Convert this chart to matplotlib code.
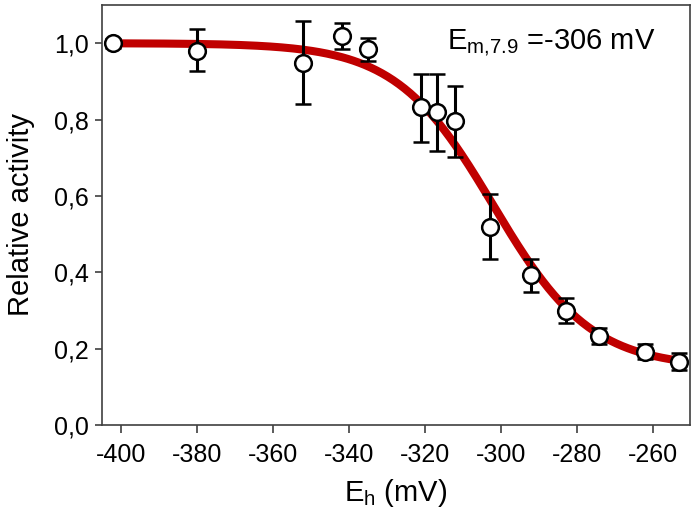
import numpy as np
import matplotlib
matplotlib.use('Agg')
import matplotlib.pyplot as plt

plt.rcParams['font.family'] = ['Liberation Sans', 'DejaVu Sans']
plt.rcParams['mathtext.fontset'] = 'custom'
plt.rcParams['mathtext.rm'] = 'Liberation Sans'
plt.rcParams['axes.unicode_minus'] = False

# data
eh = [-402, -380, -352, -341.7, -334.9, -321, -316.9, -312, -303, -292, -283, -274.2, -262, -253.2]
activity = [1.0, 0.98, 0.948, 1.019, 0.984, 0.832, 0.819, 0.796, 0.519, 0.393, 0.299, 0.233, 0.192, 0.166]
err_up = [0.012, 0.056, 0.110, 0.033, 0.030, 0.087, 0.100, 0.091, 0.086, 0.043, 0.033, 0.02, 0.02, 0.022]
err_down = [0.012, 0.053, 0.108, 0.035, 0.030, 0.092, 0.101, 0.094, 0.083, 0.044, 0.033, 0.02, 0.02, 0.022]

# Nernst fit (n = 2) as drawn
fit_top = 1.0
fit_bottom = 0.15
fit_mid = -302.0
fit_slope = 12.85  # RT/2F in mV
em_text = -306

xticks = [-400, -380, -360, -340, -320, -300, -280, -260]
yticks = [0.0, 0.2, 0.4, 0.6, 0.8, 1.0]

fig = plt.figure(figsize=(7, 5.16), dpi=100)
ax = fig.add_axes([0.1453, 0.1764, 0.8404, 0.8139])

xfit = np.linspace(eh[0], eh[-1], 300)
yfit = fit_bottom + (fit_top - fit_bottom) / (1 + np.exp((xfit - fit_mid) / fit_slope))
ax.plot(xfit, yfit, color='#c00000', lw=5.8, zorder=1, solid_capstyle='butt')

ax.errorbar(eh, activity, yerr=[err_down, err_up], fmt='o', color='black',
            ecolor='black', elinewidth=2.2, capsize=6, capthick=2.2,
            markersize=12, markerfacecolor='white', markeredgecolor='black',
            markeredgewidth=1.8, zorder=3)

ax.set_xlim(-405, -250.3)
ax.set_ylim(0, 1.1)
ax.set_xticks(xticks)
ax.set_yticks(yticks)
ax.set_yticklabels([('%.1f' % v).replace('.', ',') for v in yticks])
ax.tick_params(direction='out', length=5, width=1.2, labelsize=18, color='#404040', pad=4)
ax.tick_params(axis='x', length=6, pad=7)
for s in ax.spines.values():
    s.set_color('#404040')
    s.set_linewidth(1.2)

ax.set_xlabel(r'E$_\mathregular{h}$ (mV)', fontsize=21, labelpad=7)
ax.set_ylabel('Relative activity', fontsize=21, labelpad=14)

ax.text(0.587, 0.893, r'E$_\mathregular{m{,}7.9}$' + ' =-' + str(abs(em_text)) + ' mV',
        transform=ax.transAxes, fontsize=21, va='baseline', ha='left')

fig.savefig('out.png', dpi=100)
